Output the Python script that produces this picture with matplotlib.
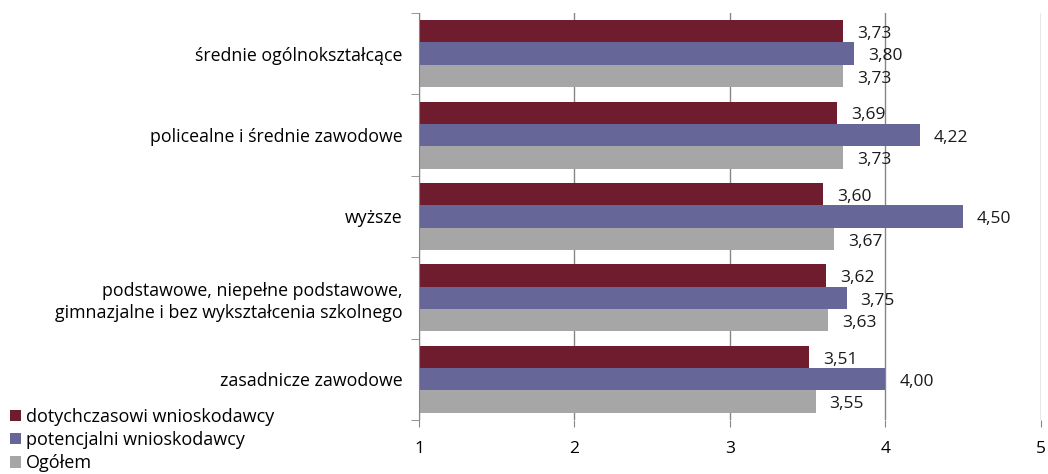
import numpy as np
import matplotlib.pyplot as plt
from matplotlib.patches import Patch

plt.rcParams['font.family'] = ['Open Sans', 'DejaVu Sans']

# categories from top to bottom
categories = ['średnie ogólnokształcące',
              'policealne i średnie zawodowe',
              'wyższe',
              'podstawowe, niepełne podstawowe,\ngimnazjalne i bez wykształcenia szkolnego',
              'zasadnicze zawodowe']
dotychczasowi = [3.73, 3.69, 3.60, 3.62, 3.51]
potencjalni = [3.80, 4.22, 4.50, 3.75, 4.00]
ogolem = [3.73, 3.73, 3.67, 3.63, 3.55]
series_names = ['dotychczasowi wnioskodawcy', 'potencjalni wnioskodawcy', 'Ogółem']
colors = ['#6E1C2E', '#666699', '#A6A6A6']

fig = plt.figure(figsize=(10.48, 4.74), dpi=100)
ax = fig.add_axes([0.3998, 0.114, 0.5935, 0.8586])

y = np.arange(len(categories))[::-1]
h = 0.275
all_series = [dotychczasowi, potencjalni, ogolem]
for k, (vals, col) in enumerate(zip(all_series, colors)):
    pos = y + h * (1 - k)
    ax.barh(pos, np.array(vals) - 1, left=1, height=h, color=col, zorder=2)
    for p, v in zip(pos, vals):
        ax.annotate(f'{v:.2f}'.replace('.', ','), (v, p), xytext=(10, -2),
                    textcoords='offset points', ha='left', va='center',
                    fontsize=12.5, color='#1a1a1a', zorder=3)

ax.set_xlim(1, 5)
ax.set_ylim(-0.5, 4.5)
ax.set_xticks([1, 2, 3, 4, 5])
ax.set_xticklabels(['1', '2', '3', '4', '5'], fontsize=12.5)
ax.grid(axis='x', color='#868686', linewidth=1, zorder=0)
ax.tick_params(axis='x', length=5, color='#868686', pad=10)

ax.set_yticks(y)
ax.set_yticklabels(categories, fontsize=12.8, linespacing=1.3)
ax.tick_params(axis='y', length=0, pad=12)
ax.set_yticks(np.arange(-0.5, 5, 1), minor=True)
ax.tick_params(axis='y', which='minor', length=6, color='#868686')

for s in ['top', 'right', 'bottom']:
    ax.spines[s].set_visible(False)
ax.spines['left'].set_color('#868686')

handles = [Patch(facecolor=c) for c in colors]
fig.legend(handles, series_names, loc='upper left', bbox_to_anchor=(0.01, 0.14),
           frameon=False, fontsize=13, handlelength=0.6, handleheight=0.6,
           handletextpad=0.25, labelspacing=0.3, borderaxespad=0, borderpad=0)

fig.savefig('out.png', dpi=100)
